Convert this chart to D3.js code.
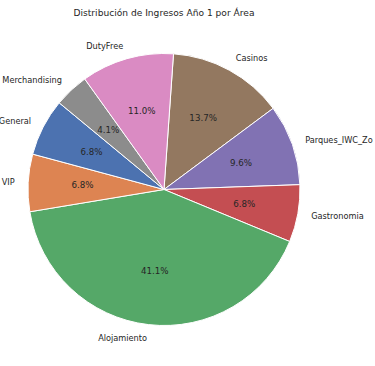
<!DOCTYPE html>
<html>
<head>
<meta charset="utf-8">
<script src="https://cdn.jsdelivr.net/npm/d3@7"></script>
<style>
  body { margin: 0; background: #fff; }
  text { font-family: "DejaVu Sans", sans-serif; fill: #262626; }
</style>
</head>
<body>
<svg id="drawing_pie"></svg>
<script>
// order is clockwise from the Casinos / DutyFree edge near 12 o'clock
const areas = ["Casinos", "Parques_IWC_Zo", "Gastronomia", "Alojamiento", "VIP", "General", "Merchandising", "DutyFree"];
const shares = [13.7, 9.6, 6.8, 41.1, 6.8, 6.8, 4.1, 11.0];
const colors = ["#937860", "#8172B3", "#C44E52", "#55A868", "#DD8452", "#4C72B0", "#8C8C8C", "#DA8BC3"];
const title = "Distribución de Ingresos Año 1 por Área";

const config = {
    width: 375,
    height: 366,
    cx: 164,
    cy: 189.5,
    radius: 136
};

const data = areas.map((a, i) => ({ area: a, value: shares[i], color: colors[i] }));

const svg = d3.select('#drawing_pie')
    .attr('width', config.width)
    .attr('height', config.height);

svg.append('text')
    .attr('x', config.cx)
    .attr('y', 15.5)
    .attr('text-anchor', 'middle')
    .style('font-size', '9.1px')
    .text(title);

const chart = svg.append('g')
    .attr('transform', `translate(${config.cx}, ${config.cy})`);

const start = 4 * Math.PI / 180;
const pie = d3.pie()
    .sort(null)
    .value(d => d.value)
    .startAngle(start)
    .endAngle(start + 2 * Math.PI);

const arcs = pie(data);
const total = d3.sum(shares);

const arc = d3.arc().innerRadius(0).outerRadius(config.radius);
const labelArc = d3.arc().innerRadius(config.radius * 1.1).outerRadius(config.radius * 1.1);
const pctArc = d3.arc().innerRadius(config.radius * 0.6).outerRadius(config.radius * 0.6);

chart.selectAll('path')
    .data(arcs)
    .enter()
    .append('path')
    .attr('d', arc)
    .attr('fill', d => d.data.color)
    .attr('stroke', '#fff')
    .attr('stroke-width', 1);

// category names outside
chart.selectAll('.label')
    .data(arcs)
    .enter()
    .append('text')
    .attr('class', 'label')
    .attr('x', d => labelArc.centroid(d)[0])
    .attr('y', d => labelArc.centroid(d)[1])
    .attr('text-anchor', d => labelArc.centroid(d)[0] > 0 ? 'start' : 'end')
    .attr('dominant-baseline', 'central')
    .style('font-size', '8.2px')
    .text(d => d.data.area);

// percentages inside
chart.selectAll('.pct')
    .data(arcs)
    .enter()
    .append('text')
    .attr('class', 'pct')
    .attr('x', d => pctArc.centroid(d)[0])
    .attr('y', d => pctArc.centroid(d)[1])
    .attr('text-anchor', 'middle')
    .attr('dominant-baseline', 'central')
    .style('font-size', '8.7px')
    .text(d => (d.data.value / total * 100).toFixed(1) + '%');
</script>
</body>
</html>
